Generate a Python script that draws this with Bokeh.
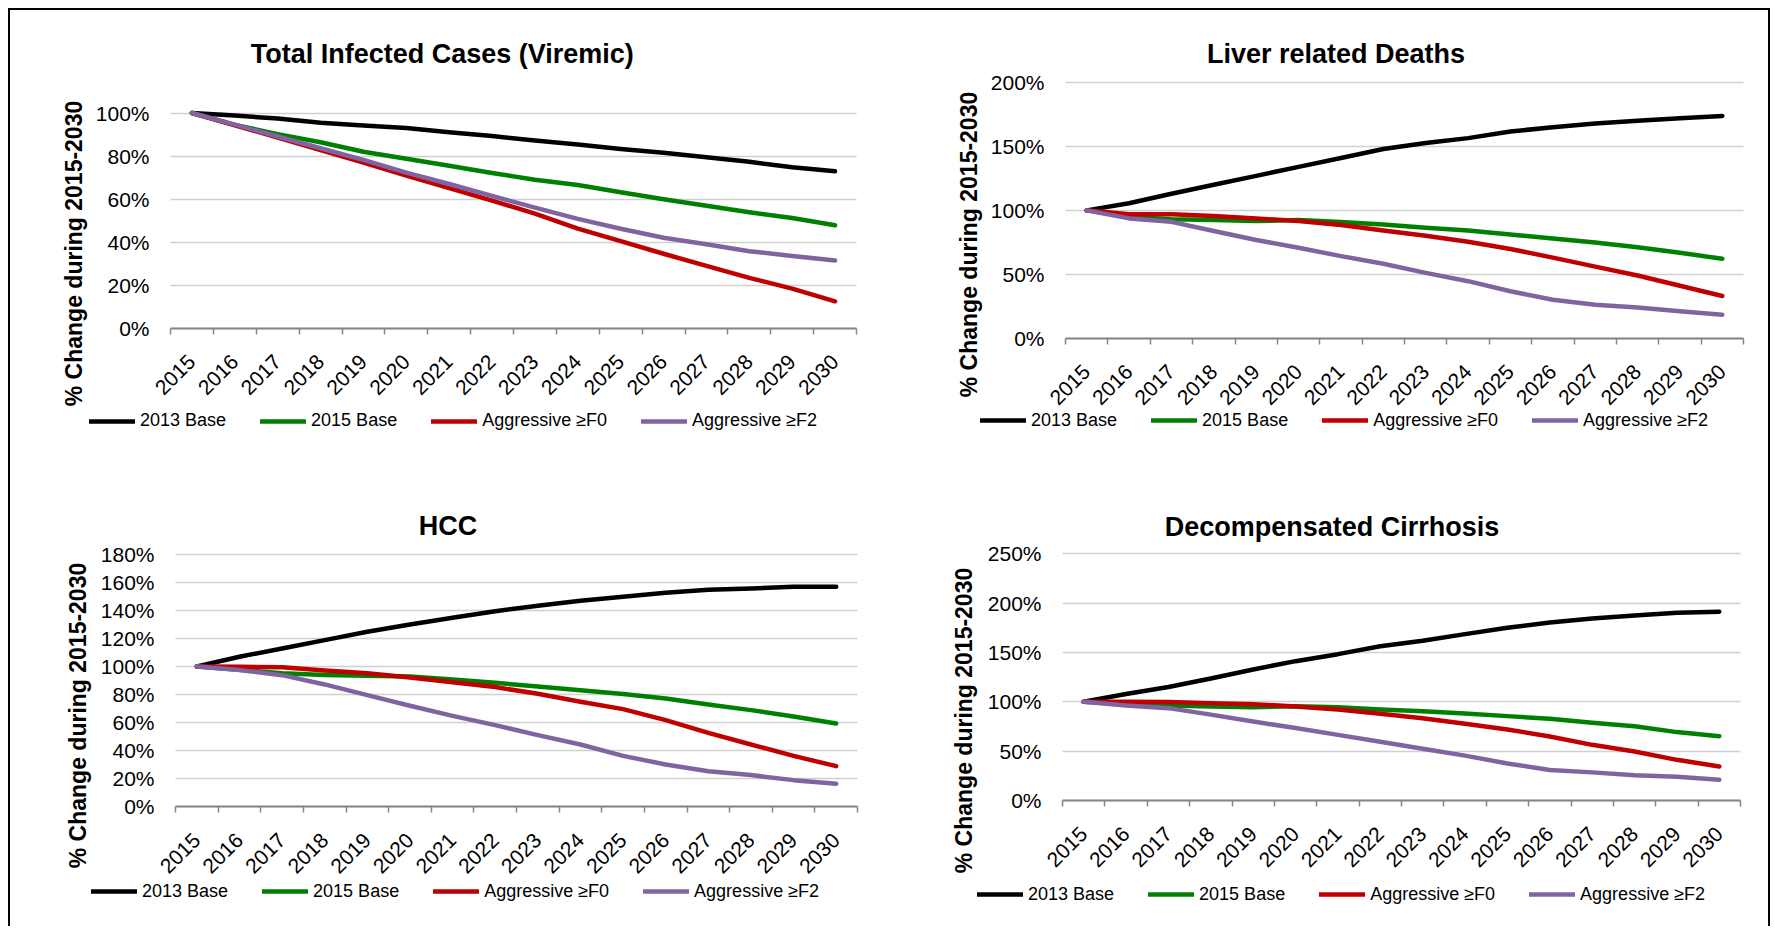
from math import pi
from bokeh.plotting import figure
from bokeh.models import Range1d, FixedTicker, PrintfTickFormatter, Label, Legend, LegendItem
from bokeh.layouts import column, row
from bokeh.embed import file_html
from bokeh.resources import INLINE

# ---------------- data ----------------
years = list(range(2015, 2031))
series_names = ["2013 Base", "2015 Base", "Aggressive \u2265F0", "Aggressive \u2265F2"]
series_colors = ["#000000", "#008000", "#C00000", "#8064A2"]

# Total Infected Cases (Viremic)
tic_2013 = [100, 98.8, 97.4, 95.5, 94.2, 93.0, 91.1, 89.3, 87.2, 85.4, 83.3, 81.5, 79.4, 77.3, 74.8, 72.9]
tic_2015 = [100, 94.5, 90.2, 86.4, 82.0, 78.7, 75.5, 72.1, 69.0, 66.5, 63.2, 59.9, 56.9, 53.9, 51.2, 47.8]
tic_f0 = [100, 94.3, 88.6, 82.8, 77.0, 70.9, 65.1, 59.3, 53.2, 46.3, 40.5, 34.6, 29.0, 23.4, 18.4, 12.5]
tic_f2 = [100, 94.6, 89.1, 83.6, 78.2, 72.3, 67.0, 61.5, 56.0, 50.8, 46.2, 42.0, 39.0, 35.8, 33.6, 31.5]

# Liver related Deaths
lrd_2013 = [100, 105.5, 113.0, 120.0, 127.0, 134.0, 141.0, 148.0, 152.6, 156.5, 161.7, 165.0, 168.0, 170.0, 172.0, 173.8]
lrd_2015 = [100, 95.0, 93.0, 92.4, 91.6, 92.4, 90.8, 89.0, 86.4, 84.3, 81.1, 78.0, 74.9, 71.2, 66.8, 62.1]
lrd_f0 = [100, 96.9, 96.9, 95.5, 93.7, 91.6, 88.5, 84.3, 80.1, 75.4, 69.8, 63.0, 56.0, 49.0, 41.0, 33.0]
lrd_f2 = [100, 93.7, 91.0, 83.9, 76.8, 70.8, 64.2, 58.2, 51.1, 44.6, 36.7, 30.1, 26.2, 24.1, 21.0, 18.3]

# HCC
hcc_2013 = [100, 106.9, 112.8, 118.8, 124.7, 129.9, 134.7, 139.4, 143.2, 146.8, 149.6, 152.5, 154.6, 155.6, 156.8, 156.8]
hcc_2015 = [100, 97.6, 95.2, 94.0, 93.3, 92.9, 90.7, 88.4, 85.7, 83.1, 80.3, 77.2, 72.9, 68.9, 64.4, 59.4]
hcc_f0 = [100, 99.8, 99.5, 97.1, 95.2, 92.2, 88.8, 85.3, 80.5, 74.8, 69.6, 61.8, 52.7, 44.4, 36.3, 29.0]
hcc_f2 = [100, 97.4, 93.8, 87.2, 79.6, 72.0, 64.8, 58.2, 51.1, 44.4, 36.3, 30.2, 25.4, 22.6, 19.0, 16.4]

# Decompensated Cirrhosis
dc_2013 = [100, 108.0, 115.0, 123.6, 132.8, 141.2, 148.3, 156.4, 161.8, 168.6, 175.0, 180.4, 184.5, 187.5, 190.2, 191.2]
dc_2015 = [100, 97.6, 96.3, 95.3, 94.6, 95.6, 94.6, 92.2, 90.5, 88.2, 85.5, 82.8, 78.7, 75.3, 69.3, 65.2]
dc_f0 = [100, 100.0, 99.7, 98.6, 97.6, 95.3, 92.2, 87.8, 83.4, 77.7, 72.0, 64.9, 56.4, 49.7, 41.2, 34.5]
dc_f2 = [100, 96.3, 93.6, 87.0, 80.0, 73.5, 66.5, 59.5, 52.5, 45.5, 37.5, 31.0, 28.5, 25.5, 24.0, 21.0]

y_title = "% Change during 2015-2030"

FONT = "Liberation Sans"
X_LO, X_HI = years[0] - 0.5, years[-1] + 0.5


def make_panel(title, ymax, ystep, series, canvas, plot_px, title_pos, ylab_pos, legend_pos):
    # canvas: (left, top, width, height) of the figure on the page
    # plot_px: (x_left_px, x_right_px, y_zero_px, y_max_px) on the page
    cx, cy, cw, ch = canvas
    px0, px1, py0, py1 = plot_px
    xs = (X_HI - X_LO) / (px1 - px0)
    x_start = X_LO - (px0 - cx) * xs
    ys = ymax / (py0 - py1)
    y_start = -(cy + ch - py0) * ys

    p = figure(width=cw, height=ch,
               x_range=Range1d(x_start, x_start + cw * xs),
               y_range=Range1d(y_start, y_start + ch * ys),
               output_backend="svg", toolbar_location=None, title=None,
               min_border=0, min_border_left=0, min_border_right=0,
               min_border_top=0, min_border_bottom=0)
    p.outline_line_color = None
    p.background_fill_color = "white"
    p.border_fill_color = "white"

    yticks = list(range(0, ymax + 1, ystep))
    p.xgrid.visible = False
    p.ygrid.ticker = FixedTicker(ticks=yticks)
    p.ygrid.grid_line_color = "#d0d0d0"
    p.ygrid.grid_line_width = 1.5
    p.ygrid.cross_bounds = (X_LO, X_HI)

    ya = p.yaxis[0]
    ya.fixed_location = X_LO
    ya.bounds = (0, ymax)
    ya.ticker = FixedTicker(ticks=yticks)
    ya.formatter = PrintfTickFormatter(format="%d%%")
    ya.axis_line_color = None
    ya.major_tick_line_color = None
    ya.minor_tick_line_color = None
    ya.major_tick_out = 0
    ya.major_tick_in = 0
    ya.major_label_standoff = 21
    ya.major_label_text_font = FONT
    ya.major_label_text_font_size = "21px"
    ya.major_label_text_color = "#000000"

    xa = p.xaxis[0]
    xa.fixed_location = 0
    xa.bounds = (X_LO, X_HI)
    xa.ticker = FixedTicker(ticks=years, minor_ticks=[yy - 0.5 for yy in years] + [X_HI])
    xa.formatter = PrintfTickFormatter(format="%d")
    xa.major_tick_line_color = None
    xa.major_tick_out = 0
    xa.major_tick_in = 0
    xa.minor_tick_line_color = "#868686"
    xa.minor_tick_line_width = 1.5
    xa.minor_tick_out = 6
    xa.minor_tick_in = 0
    xa.axis_line_color = "#868686"
    xa.axis_line_width = 2
    xa.major_label_orientation = pi / 4
    xa.major_label_standoff = 24
    xa.major_label_text_font = FONT
    xa.major_label_text_font_size = "21px"
    xa.major_label_text_color = "#000000"

    items = []
    for name, color, vals in zip(series_names, series_colors, series):
        r = p.line(years, vals, line_color=color, line_width=4.5, line_join="round", line_cap="round")
        items.append(LegendItem(label=name, renderers=[r]))

    lx, lyc = legend_pos
    legend = Legend(items=items, orientation="horizontal",
                    location=(lx - cx, cy + ch - (lyc + 11)),
                    glyph_width=46, glyph_height=22, label_height=22, label_standoff=5,
                    spacing=34, padding=0, margin=0, border_line_color=None,
                    background_fill_alpha=0, label_text_font=FONT, label_text_font_size="18px",
                    label_text_color="#000000")
    p.add_layout(legend)

    tx, ty = title_pos
    p.add_layout(Label(x=tx - cx, y=cy + ch - ty, x_units="screen", y_units="screen", text=title,
                       text_align="center", text_baseline="alphabetic", text_font=FONT,
                       text_font_size="27px", text_font_style="bold", text_color="#000000"))
    yx, yy_ = ylab_pos
    p.add_layout(Label(x=yx - cx, y=cy + ch - yy_, x_units="screen", y_units="screen", text=y_title,
                       angle=pi / 2, text_align="center", text_baseline="middle", text_font=FONT,
                       text_font_size="23px", text_font_style="bold", text_color="#000000"))
    return p


p1 = make_panel("Total Infected Cases  (Viremic)", 100, 20, [tic_2013, tic_2015, tic_f0, tic_f2],
                (10, 10, 875, 460), (170, 856, 327.7, 112.5), (445.5, 53), (73.5, 253), (89, 420.7))
p2 = make_panel("Liver related Deaths", 200, 50, [lrd_2013, lrd_2015, lrd_f0, lrd_f2],
                (885, 10, 883, 460), (1065, 1743, 337.7, 82), (1335.5, 53), (968.5, 244), (980, 420))
p3 = make_panel("HCC", 180, 20, [hcc_2013, hcc_2015, hcc_f0, hcc_f2],
                (10, 470, 875, 456), (175, 857, 806.3, 553.7), (447.5, 525), (77, 715), (91, 891))
p4 = make_panel("Decompensated Cirrhosis", 250, 50, [dc_2013, dc_2015, dc_f0, dc_f2],
                (885, 470, 883, 456), (1062, 1740, 800, 553.3), (1331.5, 526), (963, 720), (977, 894))

layout = column(row(p1, p2), row(p3, p4),
                styles={"margin-left": "8px", "margin-top": "8px",
                        "border-top": "2px solid black", "border-left": "2px solid black",
                        "border-right": "2px solid black"})

open("out.html", "w").write(file_html(layout, INLINE))
